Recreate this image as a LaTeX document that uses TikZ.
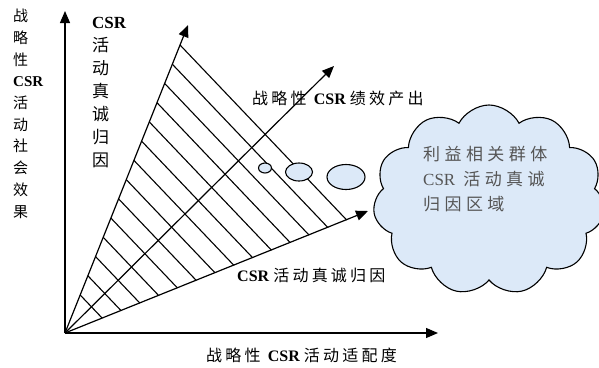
\documentclass[tikz,border=0pt]{standalone}
\usepackage{fontspec}
\setmainfont{Liberation Serif}
\newfontfamily\cjk{Noto Sans CJK SC}
\newfontfamily\cjkw[LetterSpace=20]{Noto Sans CJK SC}
\newfontfamily\cjkc[LetterSpace=26]{Noto Sans CJK SC}
\usetikzlibrary{arrows.meta,shapes.geometric,shapes.symbols}
\definecolor{lblue}{RGB}{220,233,248}
\definecolor{cloudtxt}{RGB}{85,85,85}
\newcommand{\csr}{\textbf{CSR}}
\tikzset{
  axisline/.style={line width=1.2pt,-{Triangle[length=12pt,width=10pt]}},
  hatchline/.style={line width=1.1pt},
  bubble/.style={ellipse,draw,line width=1.1pt,fill=lblue,inner sep=0pt},
  lbl/.style={inner sep=0pt,font=\fontsize{16}{20}\selectfont},
}
\begin{document}
\begin{tikzpicture}[x=1pt,y=-1pt]
\useasboundingbox (0,0) rectangle (599,367);
% coordinates
\coordinate (O) at (65,333);
\coordinate (Ytip) at (65,11);
\coordinate (Xtip) at (438,333);
\coordinate (U) at (188,25);
\coordinate (L) at (368,211);
\coordinate (M) at (334,66);
% hatching
\begin{scope}
  \clip (65,333) -- (249.5,-129) -- (600,-129) -- (600,118.6) -- cycle;
  \foreach \k in {0,...,13}{
    \pgfmathsetmacro\yy{45+19.23*\k}
    \pgfmathsetmacro\xx{65+0.3994*(333-\yy)}
    \draw[hatchline] (\xx,\yy) -- ++(300,315);
  }
\end{scope}
% axes and rays
\draw[axisline] (O) -- (Ytip);
\draw[axisline] (O) -- (Xtip);
\draw[axisline] (O) -- (U);
\draw[axisline] (O) -- (L);
\draw[axisline] (O) -- (M);
% bubbles
\node[bubble,minimum width=13pt,minimum height=10pt] (e1) at (265,168) {};
\node[bubble,minimum width=27pt,minimum height=18pt] (e2) at (299,172) {};
\node[bubble,minimum width=38pt,minimum height=25pt] (e3) at (346,177) {};
% cloud
\node[cloud,draw,line width=1.1pt,fill=lblue,cloud puffs=11,cloud puff arc=125,
      aspect=1.24,minimum width=232pt,minimum height=190pt,inner sep=0pt] (cl) at (489,200) {};
\node[inner sep=0pt,anchor=north west,align=left,text=cloudtxt,
      font=\fontsize{17}{25}\selectfont] (cltxt) at (423,146)
  {{\cjkc 利益相关群体}\\CSR\hspace{8pt}{\cjkc 活动真诚}\\{\cjkc 归因区域}};
% labels
\node[lbl,anchor=north west,align=left,font=\fontsize{15}{21.7}\selectfont] (ylab) at (13,9)
  {{\cjk 战}\\{\cjk 略}\\{\cjk 性}\\\csr\\{\cjk 活}\\{\cjk 动}\\{\cjk 社}\\{\cjk 会}\\{\cjk 效}\\{\cjk 果}};
\node[lbl,anchor=north west,align=left,font=\fontsize{17}{23}\selectfont] (ulab) at (92,17)
  {\csr\\{\cjk 活}\\{\cjk 动}\\{\cjk 真}\\{\cjk 诚}\\{\cjk 归}\\{\cjk 因}};
\node[lbl,anchor=west] (mlab) at (252,98) {{\cjkw 战略性} \csr\ {\cjkw 绩效产出}};
\node[lbl,anchor=west] (llab) at (237,275) {\csr\ {\cjkw 活动真诚归因}};
\node[lbl,anchor=west] (xlab) at (206,355) {{\cjkw 战略性} \csr\ {\cjkw 活动适配度}};
\end{tikzpicture}
\end{document}
